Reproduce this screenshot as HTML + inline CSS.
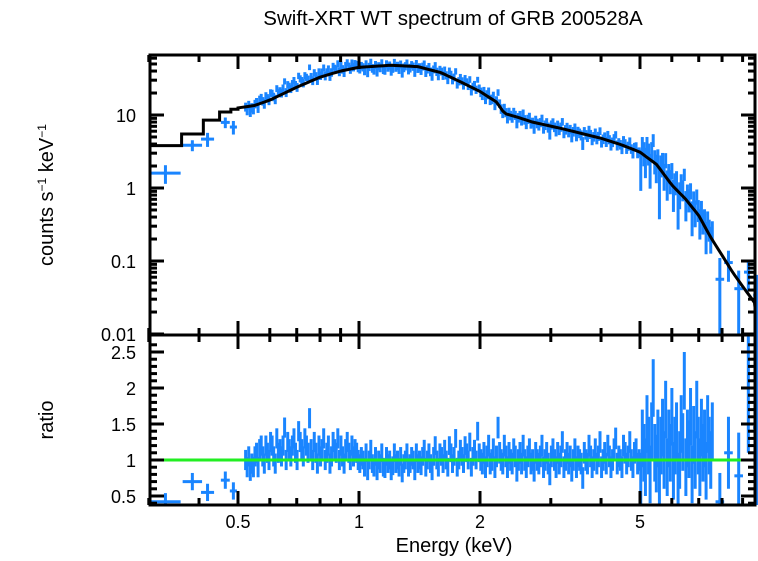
<!DOCTYPE html>
<html><head><meta charset="utf-8"><style>
body{margin:0;background:#fff;}
svg text{font-family:"Liberation Sans",sans-serif;fill:#000;}
</style></head><body>
<svg id="c" width="758" height="556" xmlns="http://www.w3.org/2000/svg">
<text x="453" y="25" font-size="20.5" text-anchor="middle">Swift-XRT WT spectrum of GRB 200528A</text>
<text x="454" y="552" font-size="20" text-anchor="middle">Energy (keV)</text>
<text transform="translate(53,195) rotate(-90)" font-size="20" text-anchor="middle">counts s<tspan dy="-7" font-size="12">−1</tspan><tspan dy="7"> keV</tspan><tspan dy="-7" font-size="12">−1</tspan></text>
<text transform="translate(53,420) rotate(-90)" font-size="20" text-anchor="middle">ratio</text>
<g id="g"></g>
</svg>
<script>
const lowModelEdges=[0.30,0.362,0.41,0.45,0.48,0.5];
const lowModelVals=[3.8,5.5,8.5,11,12];
const modelE=[0.5,0.55,0.6,0.7,0.8,0.9,1.0,1.2,1.4,1.6,1.8,2.0,2.2,2.3,2.5,2.7,3.2,4,4.5,5,5.5,6,6.5,7,7.5,8,8.5,9,9.5,10];
const modelV=[12.5,13.5,16,24,33,40,45,48,46,38,28,21,15,10.5,9.2,8,6.5,4.8,3.9,3.1,2.1,1.1,0.7,0.42,0.21,0.12,0.07,0.045,0.03,0.02];
const lowE=[0.33,0.385,0.42,0.465,0.487];
const lowHalf=[0.03,0.022,0.016,0.012,0.01];
const lowRatio=[0.42,0.7,0.55,0.72,0.57];
const segLo=[0.52,0.75,1.0,2.0,5.0];
const segHi=[0.75,1.0,2.0,5.0,7.6];
const segErr=[0.14,0.14,0.13,0.15,0.4];
const ratios1=[1.0,0.9,1.05,0.85,0.95,0.9,1.05,1.1,0.9,1.15,1.2,1.05,0.95,1.2,1.1,1.0,1.25,1.2,1.05,0.95,1.3,1.1,1.15,1.05,1.2,1.45,1.0,1.25,1.15,1.05,1.2,1.3,1.1,1.0,1.4,1.25,1.15,1.05,1.3,1.2,1.1];
const ratios2=[1.58,1.15,1.0,1.25,1.1,0.95,1.2,1.05,1.15,1.3,1.0,1.1,1.2,0.95,1.05,1.25,1.15,1.1,1.3,1.0,1.2,1.05,0.95,1.15,1.25,1.1,1.0,1.2,1.05,1.15,1.1,1.0];
const ratios3=[0.95,1.05,1.0,0.9,1.1,0.85,1.0,1.15,0.95,0.9,1.05,0.85,1.0,0.95,1.1,0.9,0.88,1.05,0.95,1.0,0.85,0.92,1.1,0.95,1.0,0.9,1.05,0.82,0.95,1.0,1.1,0.9,0.95,1.05,1.0,0.85,1.1,0.95,1.0,0.92,1.05,1.15,0.9,1.0,1.1,0.95,0.85,1.05,1.2,1.0,0.9,1.1,1.05,0.95,1.15,1.0,0.9,1.2,1.1,0.95,1.05,1.3,0.9,1.0,1.15,1.05,0.95,1.2,1.1,1.0,1.25,0.9,1.05,1.15,1.0,1.4,1.1];
const ratios4=[1.0,0.95,1.1,0.9,1.05,1.2,0.95,1.0,1.15,0.9,1.05,1.45,1.1,1.0,0.95,1.2,1.05,0.9,1.1,1.0,0.95,1.15,1.05,0.85,1.0,1.1,0.95,1.2,1.0,0.9,1.05,1.15,0.95,1.0,0.85,1.1,1.0,0.95,1.05,1.2,0.9,1.0,1.1,0.95,0.8,1.05,1.15,1.0,0.9,1.1,0.95,1.05,1.25,0.9,1.0,1.1,0.95,1.05,0.85,1.0,1.15,0.9,1.05,1.0,0.95,0.75,1.1,1.0,0.95,1.2,1.05,0.9,1.0,1.15,0.95,1.05,1.25,0.9,1.0,1.1,0.95,1.2,1.05,0.9,1.0,1.15,1.3,0.95,1.05,1.0,0.9,1.2,1.1,0.95,1.05,1.25,1.0,0.9,1.1,1.15,0.95,1.0];
const ratios5=[0.7,1.3,1.1,0.9,1.5,1.2,0.8,1.4,2.0,1.1,0.95,1.3,0.6,1.2,1.45,1.0,1.7,0.9,1.3,1.1,1.6,0.85,1.2,1.4,0.7,1.0,1.5,1.25,2.1,0.9,1.3,1.15,1.6,0.8,1.35,1.0,1.7,1.2,0.9,1.45,1.1,1.3,0.85,1.5,1.2,1.0,1.4];
const hiE=[7.9,8.3,8.8,9.3,9.8];
const hiRatio=[0.42,1.1,0.78,2.0,1.45];
const hiErr=[0.4,0.5,0.6,0.9,1.3];
const xTicks=[0.5,1,2,5];
const xTickLabels=["0.5","1","2","5"];
const yTopTicks=[0.01,0.1,1,10];
const yTopLabels=["0.01","0.1","1","10"];
const yBotTicks=[0.5,1,1.5,2,2.5];
const yBotLabels=["0.5","1","1.5","2","2.5"];

const L=150,R=755,T1=55,B1=335,T2=335,B2=505;
const X=e=>359+402*Math.log10(e);
const Y1=v=>115-73*(Math.log10(v)-1);
const Y2=r=>460-72*(r-1);
const g=document.getElementById('g');
const NS='http://www.w3.org/2000/svg';
function mk(t,a){const e=document.createElementNS(NS,t);for(const k in a)e.setAttribute(k,a[k]);g.appendChild(e);return e;}
function model(e){
  if(e<0.5){for(let i=0;i<lowModelVals.length;i++)if(e<lowModelEdges[i+1])return lowModelVals[i];}
  for(let i=0;i<modelE.length-1;i++){if(e<=modelE[i+1]){const f=(Math.log(e)-Math.log(modelE[i]))/(Math.log(modelE[i+1])-Math.log(modelE[i]));return Math.exp(Math.log(modelV[i])*(1-f)+Math.log(modelV[i+1])*f);}}
  return modelV[modelV.length-1];
}
const BLUE='#1a85ff';
function cross(e,h,v,err,Yf,name,top){
  const x=X(e),yc=Yf(v);
  let y1=Yf(v+err),y2=Yf(Math.max(v-err,top?v*0.05:-10));
  const lo=top?T1:T2,hi=top?B1:B2;
  y1=Math.max(lo,Math.min(hi,y1));y2=Math.max(lo,Math.min(hi,y2));
  if(yc<lo||yc>hi)return;
  const l=mk('line',{x1:Math.max(L,X(e/h)),x2:Math.min(R,X(e*h)),y1:yc,y2:yc,stroke:BLUE,'stroke-width':3});
  
  
  const m=mk('line',{x1:x,x2:x,y1:y1,y2:y2,stroke:BLUE,'stroke-width':3});
  
  
}
const pts=[];
lowE.forEach((e,i)=>pts.push({e,h:1+lowHalf[i]/e,r:lowRatio[i],err:0.12}));
[ratios1,ratios2,ratios3,ratios4,ratios5].forEach((arr,s)=>{
  const n=arr.length,span=segHi[s]/segLo[s];
  arr.forEach((r,j)=>{const e=segLo[s]*Math.pow(span,(j+0.5)/n);pts.push({e,h:Math.pow(span,0.5/n),r,err:segErr[s]});});
});
hiE.forEach((e,i)=>pts.push({e,h:1.025,r:hiRatio[i],err:hiErr[i]}));
pts.forEach(p=>{
  const m=model(p.e);
  cross(p.e,p.h,m*p.r,m*p.err,Y1,'spectrum-point',true);
  cross(p.e,p.h,p.r,p.err,Y2,'ratio-point',false);
});
let d='';
for(let i=0;i<lowModelVals.length;i++){const y=Y1(lowModelVals[i]);d+=(i?'L':'M')+X(lowModelEdges[i])+','+y+'L'+X(lowModelEdges[i+1])+','+y;}
for(let i=0;i<=160;i++){const e=0.5*Math.pow(20,i/160);d+='L'+Math.min(R,X(e))+','+Y1(model(e));}
const ml=mk('path',{d,fill:'none',stroke:'#000','stroke-width':3});


const gl=mk('line',{x1:L,x2:R,y1:Y2(1),y2:Y2(1),stroke:'#22ee22','stroke-width':3});


[[T1,B1,'top-panel-frame'],[T2,B2,'bottom-panel-frame']].forEach(f=>{
  const r=mk('rect',{x:L,y:f[0],width:R-L,height:f[1]-f[0],fill:'none',stroke:'#000','stroke-width':3});
  
  
});
const minorX=[0.3,0.4,0.6,0.7,0.8,0.9,3,4,6,7,8,9];
function xt(e,len){[[T1,1],[B1,-1],[T2,1],[B2,-1]].forEach(([y,s])=>{mk('line',{x1:X(e),x2:X(e),y1:y,y2:y+s*len,stroke:'#000','stroke-width':3});});}
minorX.forEach(e=>xt(e,7));
xTicks.forEach((e,i)=>{xt(e,14);
  const t=mk('text',{x:X(e),y:528,'font-size':18,'text-anchor':'middle'});t.textContent=xTickLabels[i];
  
  });
for(let dec=-2;dec<=1;dec++){for(let m=1;m<=9;m++){const v=m*Math.pow(10,dec);const y=Y1(v);if(y<T1)continue;const len=m===1?14:7;
  mk('line',{x1:L,x2:L+len,y1:y,y2:y,stroke:'#000','stroke-width':3});mk('line',{x1:R,x2:R-len,y1:y,y2:y,stroke:'#000','stroke-width':3});}}
yTopTicks.forEach((v,i)=>{const t=mk('text',{x:136,y:Y1(v)+7,'font-size':18,'text-anchor':'end'});t.textContent=yTopLabels[i];
  
  });
for(let r=0.4;r<=2.7;r+=0.1){const y=Y2(r);const maj=Math.abs(r*2-Math.round(r*2))<0.01;const len=maj?14:7;
  mk('line',{x1:L,x2:L+len,y1:y,y2:y,stroke:'#000','stroke-width':3});mk('line',{x1:R,x2:R-len,y1:y,y2:y,stroke:'#000','stroke-width':3});}
yBotTicks.forEach((v,i)=>{const t=mk('text',{x:136,y:Y2(v)+7,'font-size':18,'text-anchor':'end'});t.textContent=yBotLabels[i];
  
  });
</script>
</body></html>
